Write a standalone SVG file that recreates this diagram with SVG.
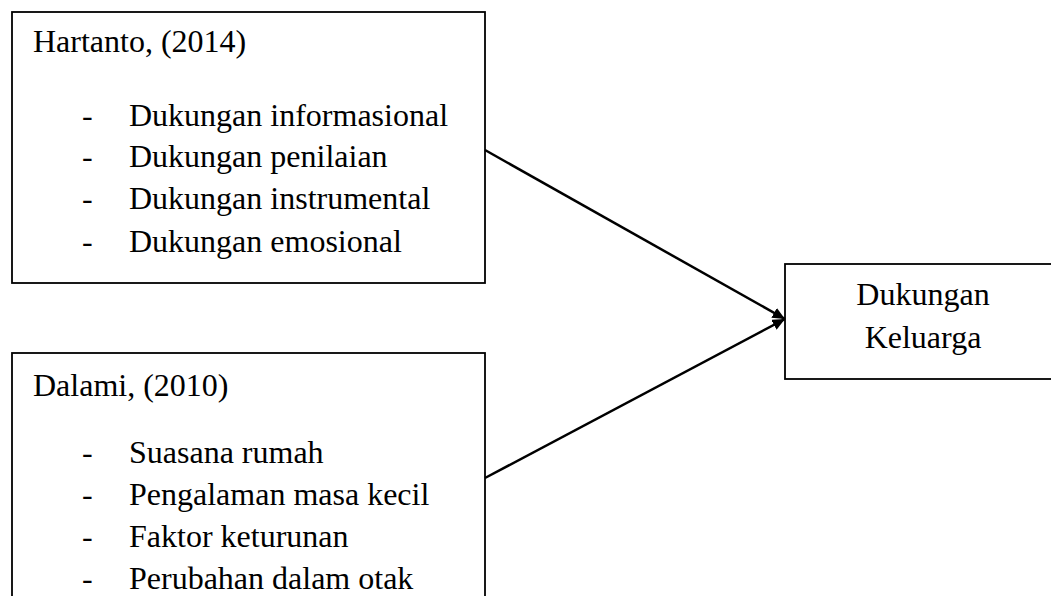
<svg xmlns="http://www.w3.org/2000/svg" width="1051" height="596" viewBox="0 0 1051 596">
<style>
.box{fill:#fff;stroke:#000;stroke-width:1.8}
.t{font-family:"Liberation Serif","Times New Roman",serif;font-size:32px;fill:#000}
.c{text-anchor:middle}
.edge{stroke:#000;stroke-width:2.5;fill:none}
</style>
<defs>
<marker id="ah" viewBox="0 0 10 10" refX="10" refY="5" markerWidth="5" markerHeight="4.5" markerUnits="strokeWidth" orient="auto" preserveAspectRatio="none">
<path d="M0,0 L10,5 L0,10 Z" fill="#000"/>
</marker>
</defs>
<g id="node-hartanto">
<rect class="box" x="12" y="12" width="473" height="271"/>
<text class="t" x="33" y="52">Hartanto, (2014)</text>
<text class="t" x="82" y="126">-</text><text class="t" x="129" y="126">Dukungan informasional</text>
<text class="t" x="82" y="167">-</text><text class="t" x="129" y="167">Dukungan penilaian</text>
<text class="t" x="82" y="209">-</text><text class="t" x="129" y="209">Dukungan instrumental</text>
<text class="t" x="82" y="252">-</text><text class="t" x="129" y="252">Dukungan emosional</text>
</g>
<g id="node-dalami">
<rect class="box" x="12" y="353" width="473" height="260"/>
<text class="t" x="33" y="396">Dalami, (2010)</text>
<text class="t" x="82" y="463">-</text><text class="t" x="129" y="463">Suasana rumah</text>
<text class="t" x="82" y="505">-</text><text class="t" x="129" y="505">Pengalaman masa kecil</text>
<text class="t" x="82" y="547">-</text><text class="t" x="129" y="547">Faktor keturunan</text>
<text class="t" x="82" y="589">-</text><text class="t" x="129" y="589">Perubahan dalam otak</text>
</g>
<g id="node-dukungan">
<rect class="box" x="785" y="264" width="280" height="115"/>
<text class="t c" x="923" y="305">Dukungan</text>
<text class="t c" x="923" y="348">Keluarga</text>
</g>
<g id="connectors">
<line class="edge" x1="485" y1="150" x2="785" y2="319" marker-end="url(#ah)"/>
<line class="edge" x1="485" y1="478" x2="785" y2="319" marker-end="url(#ah)"/>
</g>
</svg>
